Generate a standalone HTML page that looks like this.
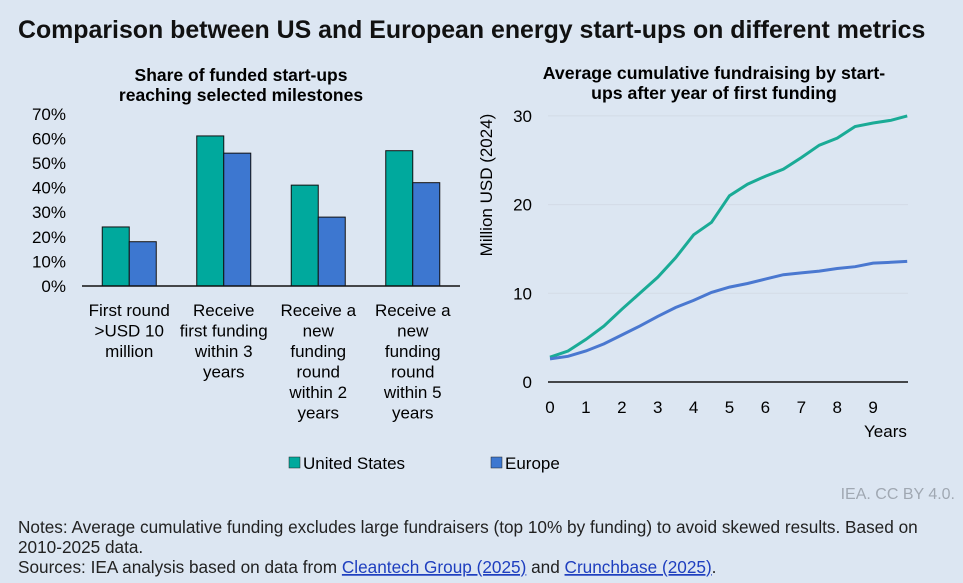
<!DOCTYPE html>
<html><head><meta charset="utf-8"><style>
body{margin:0;width:963px;height:583px;background:#dce6f2;font-family:"Liberation Sans",Arial,sans-serif;overflow:hidden}
svg{position:absolute;left:0;top:0}
</style></head><body>
<svg width="963" height="583">
<rect width="963" height="583" fill="#dce6f2"/>
<text x="18" y="38" font-size="24.9" font-weight="bold" fill="#111">Comparison between US and European energy start-ups on different metrics</text>
<g id="left">
<text x="241" y="81" font-size="17.5" font-weight="bold" text-anchor="middle">Share of funded start-ups</text>
<text x="241" y="101" font-size="17.5" font-weight="bold" text-anchor="middle">reaching selected milestones</text>
</g>
<g id="right">
<text x="714" y="79" font-size="17.7" font-weight="bold" text-anchor="middle">Average cumulative fundraising by start-</text>
<text x="714" y="99" font-size="17.7" font-weight="bold" text-anchor="middle">ups after year of first funding</text>
<text transform="translate(492,185) rotate(-90)" font-size="17" text-anchor="middle">Million USD (2024)</text>
<text x="864" y="437" font-size="17">Years</text>
</g>
<g>
<rect x="289" y="457" width="11" height="11" fill="#00a99d" stroke="#222" stroke-width="0.5"/>
<text x="303" y="469" font-size="17">United States</text>
<rect x="491" y="457" width="11" height="11" fill="#3d77d0" stroke="#222" stroke-width="0.5"/>
<text x="505" y="469" font-size="17">Europe</text>
</g>
<text x="955" y="499" font-size="16" fill="#a0a8b2" text-anchor="end">IEA. CC BY 4.0.</text>
<g font-size="17.2" fill="#222">
<text x="18" y="533">Notes: Average cumulative funding excludes large fundraisers (top 10% by funding) to avoid skewed results. Based on</text>
<text x="18" y="553">2010-2025 data.</text>
<text x="18" y="573">Sources: IEA analysis based on data from <tspan fill="#1f3fbf" text-decoration="underline">Cleantech Group (2025)</tspan> and <tspan fill="#1f3fbf" text-decoration="underline">Crunchbase (2025)</tspan>.</text>
</g>
</svg>
<script>
const categories=[["First round",">USD 10","million"],["Receive","first funding","within 3","years"],["Receive a","new","funding","round","within 2","years"],["Receive a","new","funding","round","within 5","years"]];
const usShare=[24,61,41,55];
const euShare=[18,54,28,42];
const pctTicks=[0,10,20,30,40,50,60,70];
const years=[0,0.5,1,1.5,2,2.5,3,3.5,4,4.5,5,5.5,6,6.5,7,7.5,8,8.5,9,9.5,9.95];
const usFund=[2.8,3.5,4.8,6.3,8.2,10,11.8,14,16.6,18,21,22.3,23.2,24,25.3,26.7,27.5,28.8,29.2,29.5,30];
const euFund=[2.6,2.9,3.5,4.3,5.3,6.3,7.4,8.4,9.2,10.1,10.7,11.1,11.6,12.1,12.3,12.5,12.8,13,13.4,13.5,13.6];
const yTicks=[0,10,20,30];
const xTicks=[0,1,2,3,4,5,6,7,8,9];
const NS="http://www.w3.org/2000/svg";
function mk(p,t,a){const e=document.createElementNS(NS,t);for(const k in a)e.setAttribute(k,a[k]);p.appendChild(e);return e;}
const L=document.getElementById('left'),R=document.getElementById('right');
const bx0=82,bx1=460,by0=286,bPer=24.6;
const yB=v=>by0-v*bPer/10;
const bw=(bx1-bx0)/categories.length;
pctTicks.forEach(t=>{const e=mk(L,'text',{x:66,y:yB(t)+6,'font-size':17,'text-anchor':'end'});e.textContent=t+'%';

});
categories.forEach((c,i)=>{const cx=bx0+bw*(i+0.5);
const a=mk(L,'rect',{x:cx-27,y:yB(usShare[i]),width:27,height:by0-yB(usShare[i]),fill:'#00a99d',stroke:'#111','stroke-width':1});


const b=mk(L,'rect',{x:cx,y:yB(euShare[i]),width:27,height:by0-yB(euShare[i]),fill:'#3d77d0',stroke:'#111','stroke-width':1});


c.forEach((ln,j)=>{const e=mk(L,'text',{x:cx,y:316+j*20.5,'font-size':17,'text-anchor':'middle'});e.textContent=ln;

});});
const ax=mk(L,'line',{x1:bx0,y1:by0,x2:bx1,y2:by0,stroke:'#111','stroke-width':1.5});


const lx0=550,lxs=35.9,ly0=382,lys=8.87;
const X=v=>lx0+v*lxs,Y=v=>ly0-v*lys;
yTicks.forEach(t=>{if(t>0){const g=mk(R,'line',{x1:548,x2:908,y1:Y(t),y2:Y(t),stroke:'#d3dbe6','stroke-width':1});}
const e=mk(R,'text',{x:532,y:Y(t)+6,'font-size':17,'text-anchor':'end'});e.textContent=t;

});
xTicks.forEach(t=>{const e=mk(R,'text',{x:X(t),y:413,'font-size':17,'text-anchor':'middle'});e.textContent=t;

});
const la=mk(R,'line',{x1:548,x2:908,y1:ly0,y2:ly0,stroke:'#111','stroke-width':1.5});


function path(d){return d.map((v,i)=>(i?'L':'M')+X(years[i]).toFixed(1)+','+Y(v).toFixed(1)).join('');}
const pu=mk(R,'path',{d:path(usFund),fill:'none',stroke:'#1aab96','stroke-width':3});


const pe=mk(R,'path',{d:path(euFund),fill:'none',stroke:'#4a78d0','stroke-width':3});


</script>
</body></html>
